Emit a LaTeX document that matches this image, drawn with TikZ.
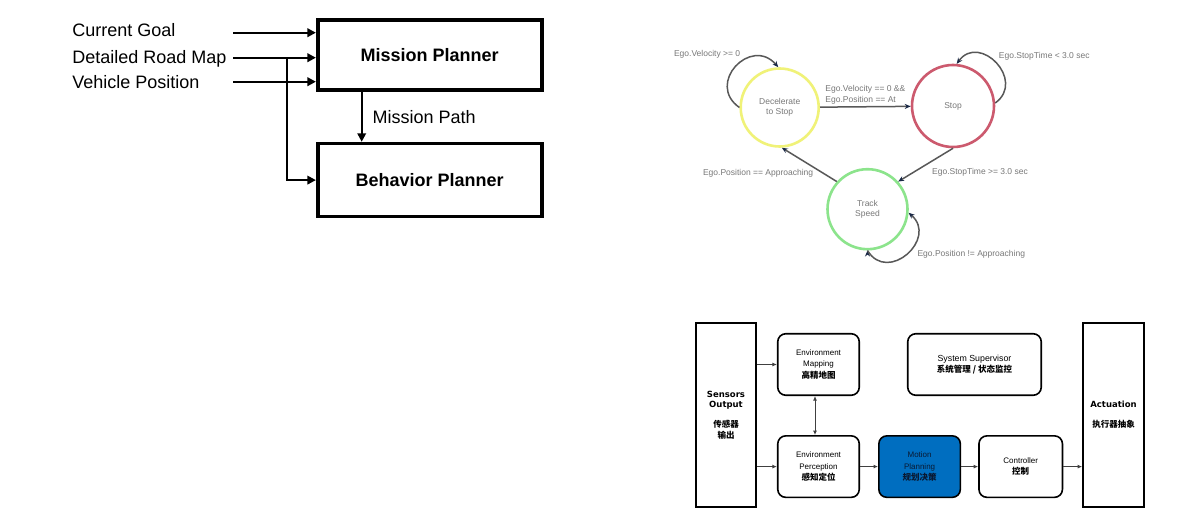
\documentclass[tikz,border=0pt]{standalone}
\usepackage{fontspec}
\setmainfont{Liberation Sans}
\newfontfamily\cjk{Noto Sans CJK SC}
\newfontfamily\wide{DejaVu Sans}
\usetikzlibrary{automata,arrows,arrows.meta,calc,positioning}

\definecolor{decyellow}{RGB}{240,242,120}
\definecolor{stopred}{RGB}{204,90,110}
\definecolor{trackgreen}{RGB}{140,228,140}
\definecolor{smgray}{RGB}{88,88,88}
\definecolor{smtext}{RGB}{120,120,120}
\definecolor{tipnavy}{RGB}{25,40,70}
\definecolor{planblue}{RGB}{0,110,192}
\definecolor{plantext}{RGB}{10,25,50}

\newcommand\cjkline{\cjk\bfseries\fontsize{8.5}{11.2}\selectfont}

\tikzset{
  planner/.style={draw, line width=3.6pt, minimum width=224pt, minimum height=70pt,
                  font=\fontsize{18}{20}\selectfont\bfseries},
  inlabel/.style={anchor=base west, inner sep=0pt, font=\fontsize{18}{20}\selectfont},
  feed/.style={->, >={Triangle[length=8.5pt,width=8.5pt]}, line width=2pt},
  smstate/.style={state, line width=2.6pt, text=smtext, align=center, inner sep=0pt,
                  font=\fontsize{8.5}{10}\selectfont},
  smedge/.style={draw=smgray, line width=1.5pt, ->, >={Stealth[length=6pt,width=5pt,color=tipnavy]},
                 every node/.style={text=smtext, inner sep=2pt, font=\fontsize{8.5}{10.4}\selectfont}},
  block/.style={draw, rounded corners=8pt, line width=1.6pt, minimum width=81.5pt, minimum height=61.5pt,
                align=center, text=black, inner sep=1pt, font=\fontsize{8}{11.2}\selectfont},
  side/.style={draw, line width=1.8pt, minimum width=60pt, minimum height=184pt,
               align=center, text=black, font=\fontsize{8.5}{10.7}\selectfont},
  link/.style={draw=black!75, line width=1pt, ->, >={Latex[length=4.5pt,width=4pt]}},
}

\begin{document}
\begin{tikzpicture}[x=1pt, y=1pt, semithick]

    \fill[white] (0,0) rectangle (1200,-522);
    \useasboundingbox (0,0) rectangle (1200,-522);

    % mission / behavior planner
    \node[planner] (mission)  at (429.7,-55)           {Mission Planner};
    \node[planner, minimum height=73pt] (behavior) [below=50pt of mission] {Behavior Planner};

    \node[inlabel] (goal)    at (72,-36.5) {Current Goal};
    \node[inlabel] (roadmap) at (72,-63.1) {Detailed Road Map};
    \node[inlabel] (vehpos)  at (72,-88.2) {Vehicle Position};

    \coordinate (goalout)    at (233.3,-32.7);
    \coordinate (roadmapout) at (233.3,-57.7);
    \coordinate (vehposout)  at (233.3,-81.7);
    \coordinate (split)      at (286.7,-57.7);

    \draw[feed] (goalout)    -- (goalout -| mission.west);
    \draw[feed] (roadmapout) -- (roadmapout -| mission.west);
    \draw[feed] (vehposout)  -- (vehposout -| mission.west);
    \draw[feed] (split) |- (behavior.west);
    \draw[feed] ([xshift=-68pt]mission.south) -- node[right=8pt, inner sep=2pt, font=\fontsize{18}{20}\selectfont] {Mission Path} ([xshift=-68pt]behavior.north);

    % state machine
    \node[smstate, draw=decyellow,  minimum size=78pt] (dec)   at (779.7,-107.5) {Decelerate\\to Stop};
    \node[smstate, draw=stopred,    minimum size=82pt] (stop)  at (953,-106)     {Stop};
    \node[smstate, draw=trackgreen, minimum size=80pt] (track) at (867.5,-209.2) {Track\\Speed};

    \path[smedge] (dec)       edge node[above, align=left] {Ego.Velocity == 0 \&\&\\Ego.Position == At} (stop)
                  (stop.270)  edge node[pos=.43, anchor=north west, yshift=-3pt] {Ego.StopTime >= 3.0 sec} (track.42)
                  (track.138) edge node[pos=.38, anchor=north east, yshift=2pt] {Ego.Position == Approaching} (dec.273)
                  (dec.180)   edge [out=145, in=131, looseness=1.9] node[pos=.6, anchor=south east] {Ego.Velocity >= 0} (dec.92)
                  (stop.4)    edge [out=36, in=54, looseness=1.8] node[pos=.5, anchor=south west] {Ego.StopTime < 3.0 sec} (stop.85)
                  (track.270) edge [out=-59, in=-41, looseness=1.8] node[pos=.5, anchor=west, xshift=8pt] {Ego.Position != Approaching} (track.355);

    % system architecture
    \node[side] (sensors)   at (726,-415)    {\wide\bfseries Sensors\\\wide\bfseries Output\\[9pt]\cjk\bfseries 传感器\\\cjk\bfseries 输出};
    \node[side, minimum width=61pt] (actuation) at (1113.5,-415) {\wide\bfseries Actuation\\[9pt]\cjk\bfseries 执行器抽象};

    \node[block] (mapping)    at (818.5,-364.5) {Environment\\Mapping\\\cjkline 高精地图};
    \node[block, minimum width=133.5pt, font=\fontsize{8.8}{11.2}\selectfont] (supervisor) at (974.5,-364.5) {System Supervisor\\\cjkline 系统管理 / 状态监控};
    \node[block] (perception) [below=39pt of mapping]   {Environment\\Perception\\\cjkline 感知定位};
    \node[block, fill=planblue, text=plantext] (motion) [right=18pt of perception] {Motion\\Planning\\\cjkline 规划决策};
    \node[block, minimum width=83.5pt] (controller) [right=17pt of motion] {Controller\\\cjkline 控制};

    \draw[link] (sensors.east |- mapping.west) -- (mapping.west);
    \draw[link] (sensors.east |- perception.west) -- (perception.west);
    \draw[link, <->] ([xshift=-3.5pt]perception.north) -- ([xshift=-3.5pt]mapping.south);
    \draw[link] (perception) -- (motion);
    \draw[link] (motion.east) -- (motion.east -| controller.west);
    \draw[link] (controller.east) -- (controller.east -| actuation.west);

\end{tikzpicture}
\end{document}
